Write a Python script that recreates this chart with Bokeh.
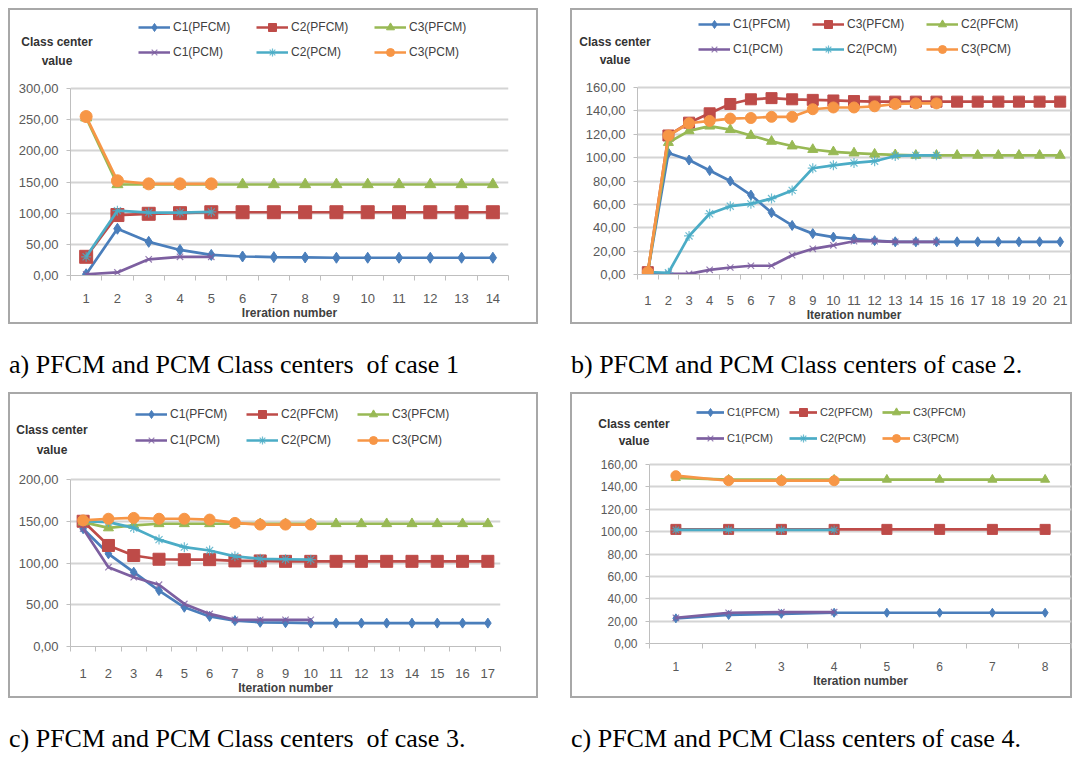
from bokeh.plotting import figure
from bokeh.layouts import column, row
from bokeh.models import (Range1d, FixedTicker, CustomJSTickFormatter, Legend,
                          LegendItem, Div)
from bokeh.embed import file_html
from bokeh.resources import INLINE

# ---------------- data ----------------
# Panel a (case 1)
a_iter = [1, 2, 3, 4, 5, 6, 7, 8, 9, 10, 11, 12, 13, 14]
a_c1_pfcm = [2, 75, 54, 41, 33, 30.5, 29.5, 29, 28.5, 28.5, 28.5, 28.5, 28.5, 28.5]
a_c2_pfcm = [30, 97, 99, 100, 101.5, 101.5, 101.5, 101.5, 101.5, 101.5, 101.5, 101.5, 101.5, 101.5]
a_c3_pfcm = [253, 146, 146, 146, 146, 146, 146, 146, 146, 146, 146, 146, 146, 146]
a_c1_pcm = [2, 5, 26, 30, 30]
a_c2_pcm = [30, 104, 101, 101, 102]
a_c3_pcm = [255, 152, 147, 147, 147]

# Panel b (case 2)
b_iter = [1, 2, 3, 4, 5, 6, 7, 8, 9, 10, 11, 12, 13, 14, 15, 16, 17, 18, 19, 20, 21]
b_c1_pfcm = [2, 104, 98, 89, 80, 68, 53, 42, 35, 32, 30.5, 29, 28, 28, 28, 28, 28, 28, 28, 28, 28]
b_c3_pfcm = [2, 119, 130, 138, 146, 150, 151, 150, 149.5, 149, 148.5, 148, 148, 148, 148, 148, 148, 148, 148, 148, 148]
b_c2_pfcm = [2, 113, 123, 127, 124, 119, 114, 110, 107, 105, 104, 103, 102.5, 102, 102, 102, 102, 102, 102, 102, 102]
b_c1_pcm = [0.5, 0.5, 0.5, 4, 6, 7.5, 7.5, 16.5, 22, 25, 28.5, 28.5, 28, 28, 28]
b_c2_pcm = [2, 1.5, 33, 52, 58.5, 60.5, 65, 72, 91, 93.5, 95.5, 97, 101.5, 102, 102]
b_c3_pcm = [2, 119, 129.5, 131.5, 133.5, 134, 135, 135, 141.5, 143, 143, 144, 146, 146.5, 146.5]

# Panel c (case 3)
c_iter = [1, 2, 3, 4, 5, 6, 7, 8, 9, 10, 11, 12, 13, 14, 15, 16, 17]
c_c1_pfcm = [141, 111, 89, 67, 47, 36, 31, 29, 28.5, 28, 28, 28, 28, 28, 28, 28, 28]
c_c2_pfcm = [150, 121, 109, 104.5, 104, 104, 102.5, 102.5, 102, 102, 102, 102, 102, 102, 102, 102, 102]
c_c3_pfcm = [149, 142, 145, 147, 147, 147, 147, 147, 147, 147, 147, 147, 147, 147, 147, 147, 147]
c_c1_pcm = [141, 95, 83, 74, 51, 39, 32, 32, 32, 32]
c_c2_pcm = [150, 149, 142, 128, 119, 115, 108, 105, 104.5, 104]
c_c3_pcm = [151, 153, 154, 153, 153, 152, 148, 146, 146, 146]

# Panel d (case 4)
d_iter = [1, 2, 3, 4, 5, 6, 7, 8]
d_c1_pfcm = [22.5, 25.5, 26.5, 27.5, 27.5, 27.5, 27.5, 27.5]
d_c2_pfcm = [102, 102, 102, 102, 102, 102, 102, 102]
d_c3_pfcm = [148, 146.5, 146.5, 146.5, 146.5, 146.5, 146.5, 146.5]
d_c1_pcm = [23, 27.5, 28, 28]
d_c2_pcm = [101.5, 101.5, 101.5, 101.5]
d_c3_pcm = [150, 145.5, 145.5, 145.5]

names_a = ["C1(PFCM)", "C2(PFCM)", "C3(PFCM)", "C1(PCM)", "C2(PCM)", "C3(PCM)"]
names_b = ["C1(PFCM)", "C3(PFCM)", "C2(PFCM)", "C1(PCM)", "C2(PCM)", "C3(PCM)"]
captions = ["a) PFCM and PCM Class centers  of case 1",
            "b) PFCM and PCM Class centers of case 2.",
            "c) PFCM and PCM Class centers  of case 3.",
            "c) PFCM and PCM Class centers of case 4."]
xlabels = ["Ireration number", "Iteration number", "Iteration number", "Iteration number"]
ylabel_lines = ["Class center", "value"]

# ---------------- styling ----------------
BLUE, RED, GREEN = "#4A7EBB", "#BE4B48", "#98B954"
PURPLE, CYAN, ORANGE = "#7D5FA0", "#4BACC6", "#F79646"
COLORS = [BLUE, RED, GREEN, PURPLE, CYAN, ORANGE]
MARKERS = ["diamond", "square", "triangle", "x", "asterisk", "circle"]
FONT = "Liberation Sans"


def make_panel(width, height, mb, top_px, iters, ymax, ystep, series, names, xlabel,
               leg_xy, glyph_w, leg_font, label_w, leg_sp, tick_font, msizes, tick_standoff):
    n = len(iters)
    fh = height - mb[2] - mb[3]                 # frame height (frame reaches canvas top)
    yend = ymax * fh / (fh - (top_px - mb[2]))  # data range so that ymax sits at top_px
    p = figure(width=width, height=height, output_backend="svg", toolbar_location=None,
               x_range=Range1d(0.5, n + 0.5), y_range=Range1d(0, yend),
               min_border_left=mb[0], min_border_right=mb[1],
               min_border_top=mb[2], min_border_bottom=mb[3],
               border_fill_alpha=0, background_fill_alpha=0,
               outline_line_color=None, margin=0,
               styles={"outline": "2px solid #a8a8a8", "outline-offset": "-2px"})
    p.xgrid.visible = False
    p.ygrid.grid_line_color = "#d4d4d4"
    p.ygrid.grid_line_width = 2

    xa = p.xaxis[0]
    xa.ticker = FixedTicker(ticks=list(iters), minor_ticks=[i - 0.5 for i in iters] + [n + 0.5])
    xa.major_tick_out = 0
    xa.major_tick_in = 0
    xa.minor_tick_out = 5
    xa.minor_tick_in = 0
    xa.minor_tick_line_color = "#bfbfbf"
    xa.axis_line_color = "#bfbfbf"
    xa.major_label_text_font = FONT
    xa.major_label_text_font_size = tick_font
    xa.major_label_text_color = "#595959"
    xa.major_label_standoff = tick_standoff
    xa.axis_label = xlabel
    xa.axis_label_text_font = FONT
    xa.axis_label_text_font_style = "bold"
    xa.axis_label_text_font_size = "12px"
    xa.axis_label_text_color = "#404040"
    xa.axis_label_standoff = 0

    ya = p.yaxis[0]
    ya.ticker = FixedTicker(ticks=list(range(0, ymax + 1, ystep)))
    ya.bounds = (0, ymax)
    ya.formatter = CustomJSTickFormatter(code="return tick.toFixed(2).replace('.', ',');")
    ya.axis_line_color = "#bfbfbf"
    ya.major_tick_line_color = "#bfbfbf"
    ya.major_tick_out = 4
    ya.major_tick_in = 0
    ya.minor_tick_line_color = None
    ya.major_label_text_font = FONT
    ya.major_label_text_font_size = tick_font
    ya.major_label_text_color = "#595959"
    ya.major_label_standoff = 8

    items = []
    for ys, name, color, marker, ms in zip(series, names, COLORS, MARKERS, msizes):
        xs = iters[:len(ys)]
        r1 = p.line(xs, ys, line_color=color, line_width=2.7)
        if marker in ("x", "asterisk"):
            r2 = p.scatter(xs, ys, marker=marker, size=ms, line_color=color, line_width=1.2,
                           line_alpha=0.8)
        else:
            r2 = p.scatter(xs, ys, marker=marker, size=ms, fill_color=color, line_color=color)
        items.append(LegendItem(label=name, renderers=[r1, r2]))

    leg = Legend(items=items, location=leg_xy, orientation="horizontal", ncols=3,
                 glyph_width=glyph_w, glyph_height=20, label_height=20, label_width=label_w,
                 label_text_font=FONT, label_text_font_size=leg_font,
                 label_text_color="#404040", label_standoff=3, spacing=leg_sp,
                 padding=0, margin=0, border_line_alpha=0, background_fill_alpha=0)
    p.add_layout(leg, "center")
    return p


def caption(text, width, height, pad, size):
    html = ('<div style="font-family:\'Liberation Serif\',\'Times New Roman\',serif;'
            'font-size:%dpx;color:#000;white-space:pre;padding-top:%dpx;padding-left:1px">%s</div>'
            % (size, pad, text))
    return Div(text=html, width=width, height=height, margin=0)


def ylabel_div(cx, top, lh):
    html = ('<div style="font-family:\'Liberation Sans\',sans-serif;font-weight:bold;'
            'font-size:12px;color:#333;text-align:center;line-height:%dpx;width:100px">%s<br>%s</div>'
            % (lh, ylabel_lines[0], ylabel_lines[1]))
    return Div(text=html, width=100, height=2 * lh, margin=0,
               styles={"position": "absolute", "left": "%dpx" % (cx - 50 - 8),
                       "top": "%dpx" % (top - 8), "z-index": "5"})


pa = make_panel(530, 316, (62, 30, 2, 49), 80, a_iter, 300, 50,
                [a_c1_pfcm, a_c2_pfcm, a_c3_pfcm, a_c1_pcm, a_c2_pcm, a_c3_pcm], names_a,
                xlabels[0], (68, 213), 32, "12px", 78, 5, "13px",
                [11, 13, 11, 9, 10, 12], 13)
pb = make_panel(502, 316, (67, 2, 2, 47), 80, b_iter, 160, 20,
                [b_c1_pfcm, b_c3_pfcm, b_c2_pfcm, b_c1_pcm, b_c2_pcm, b_c3_pcm], names_b,
                xlabels[1], (61, 215), 32, "12px", 74, 5, "13px",
                [10, 11, 10, 9, 10, 11], 16)
pc = make_panel(530, 306, (62, 38, 2, 52), 87, c_iter, 200, 50,
                [c_c1_pfcm, c_c2_pfcm, c_c3_pfcm, c_c1_pcm, c_c2_pcm, c_c3_pcm], names_a,
                xlabels[2], (65, 196), 32, "12px", 70, 6, "13px",
                [10, 12, 10, 9, 10, 11], 17)
pd_ = make_panel(502, 306, (79, 1, 2, 55), 72, d_iter, 160, 20,
                 [d_c1_pfcm, d_c2_pfcm, d_c3_pfcm, d_c1_pcm, d_c2_pcm, d_c3_pcm], names_a,
                 xlabels[3], (47, 195), 28, "11px", 56, 6, "12px",
                 [9, 10, 9, 9, 9, 10], 13)

layout = column(
    row(column(pa, caption(captions[0], 530, 68, 22, 26)),
        column(pb, caption(captions[1], 502, 68, 22, 26)), spacing=32),
    row(column(pc, caption(captions[2], 530, 57, 22, 26)),
        column(pd_, caption(captions[3], 502, 57, 22, 26)), spacing=32),
    ylabel_div(57, 33, 19),
    ylabel_div(615, 33, 18),
    ylabel_div(52, 420, 20),
    ylabel_div(634, 416, 17),
    margin=(8, 0, 0, 8),
)

open("out.html", "w").write(file_html(layout, INLINE))
